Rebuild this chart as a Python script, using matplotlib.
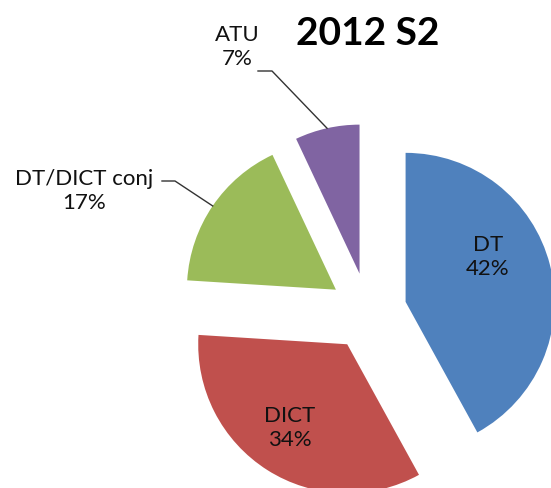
import matplotlib.pyplot as plt
import numpy as np

# данные диаграммы
names = ['DT', 'DICT', 'DT/DICT conj', 'ATU']
values = [42, 34, 17, 7]
colors = ['#4F81BD', '#C0504D', '#9BBB59', '#8064A2']
title = '2012 S2'

W, H = 551, 489
fig = plt.figure(figsize=(W / 100, H / 100), dpi=100)
ax = fig.add_axes([0, 0, 1, 1])

# explode в pie задаётся в единицах данных (здесь пиксели)
wedges, _ = ax.pie(values, explode=[38.8] * 4, colors=colors, startangle=90,
                   counterclock=False, center=(368, H - 312.5), radius=149,
                   wedgeprops=dict(linewidth=0))
ax.set_xlim(0, W)
ax.set_ylim(0, H)
ax.set_aspect('equal')
ax.axis('off')

font = dict(family=['Lato', 'DejaVu Sans'], fontsize=16, color='#111111',
            ha='center', va='center', linespacing=1.3)

# подписи внутри (DT, DICT)
inside = {0: (488, 257), 1: (290, 428)}
for i, (x, y) in inside.items():
    ax.text(x, H - y, f'{names[i]}\n{values[i]}%', **font)

# подписи снаружи с выносками
outside = {3: ((237, 47), (258, 72), (272, 72)),
           2: ((84, 191), (162, 182), (175, 182))}
for i, (txt, p1, p2) in outside.items():
    ax.text(txt[0], H - txt[1], f'{names[i]}\n{values[i]}%', **font)
    w = wedges[i]
    a = np.radians((w.theta1 + w.theta2) / 2)
    ex = w.center[0] + w.r * np.cos(a)
    ey = w.center[1] + w.r * np.sin(a)
    ax.plot([p1[0], p2[0], ex], [H - p1[1], H - p2[1], ey], color='#333333', lw=1)

ax.text(368, H - 34, title, family=['Lato', 'DejaVu Sans'], fontweight='bold',
        fontsize=28, ha='center', va='center', color='black')

fig.savefig('out.png', dpi=100)
